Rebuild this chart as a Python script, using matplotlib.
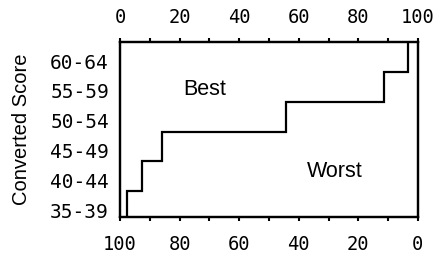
import numpy as np
import matplotlib.pyplot as plt

# Score bands (lower bound of each band) and their labels
band_low = [35, 40, 45, 50, 55, 60]
band_labels = ["35-39", "40-44", "45-49", "50-54", "55-59", "60-64"]
# percent of people below the upper edge of each band
pct = [2.3, 7.4, 14.1, 55.7, 88.6, 96.6]

top_ticks = [0, 20, 40, 60, 80, 100]

fig = plt.figure(figsize=(4.38, 2.57), dpi=100)
ax = fig.add_axes([0.274, 0.1556, 0.680, 0.681])
ax2 = ax.twiny()

ymin, ymax = 35.2, 64.5
upper = np.array(band_low) + 4.5
xs = np.repeat(pct, 2)
ys = np.concatenate([[ymin], np.repeat(upper, 2)[:-1]])
ax.plot(xs, ys, color="black", lw=1.6, solid_joinstyle="miter")

ax.set_xlim(0, 100)
ax.set_ylim(ymin, ymax)

mono = "DejaVu Sans Mono"

# top axis: percent 0..100
ax.xaxis.tick_top()
ax.xaxis.set_label_position("top")
ax.set_xticks(top_ticks)
ax.set_xticks(np.arange(10, 100, 20), minor=True)
ax.set_xticklabels([str(t) for t in top_ticks], fontfamily=mono, fontsize=13.5)
ax.tick_params(axis="x", which="both", direction="out", length=3, width=1.5, pad=8)

# y labels
ax.set_yticks(np.array(band_low) + 1.3)
ax.set_yticklabels(band_labels, fontfamily=mono, fontsize=14)
ax.tick_params(axis="y", length=0, pad=8)
ax.set_ylabel("Converted Score", fontfamily="Liberation Sans", fontsize=14.5, labelpad=14)

# bottom axis reversed
ax2.xaxis.tick_bottom()
ax2.xaxis.set_label_position("bottom")
ax2.set_xlim(100, 0)
ax2.set_xticks(top_ticks)
ax2.set_xticks(np.arange(10, 100, 20), minor=True)
ax2.set_xticklabels([str(t) for t in top_ticks], fontfamily=mono, fontsize=13.5)
ax2.tick_params(axis="x", which="both", direction="out", length=3, width=1.5, pad=10)

for a in (ax, ax2):
    for s in a.spines.values():
        s.set_linewidth(1.6)

ax.text(0.285, 0.73, "Best", transform=ax.transAxes, ha="center", va="center",
        fontfamily="Liberation Sans", fontsize=15.5)
ax.text(0.72, 0.26, "Worst", transform=ax.transAxes, ha="center", va="center",
        fontfamily="Liberation Sans", fontsize=15.5)

fig.savefig("out.png", dpi=100)
